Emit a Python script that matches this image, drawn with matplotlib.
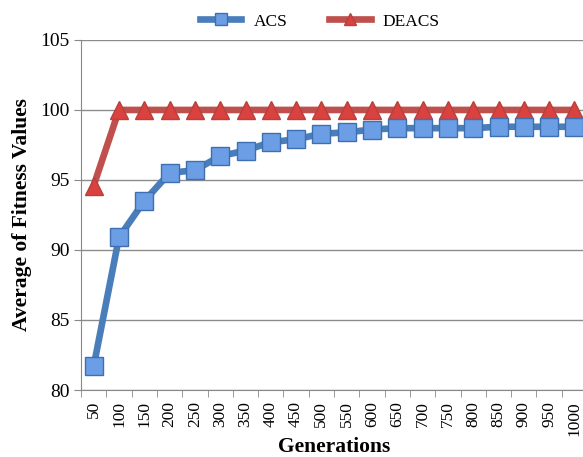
import numpy as np
import matplotlib.pyplot as plt

# data
generations = [50, 100, 150, 200, 250, 300, 350, 400, 450, 500,
               550, 600, 650, 700, 750, 800, 850, 900, 950, 1000]
acs = [81.7, 90.9, 93.5, 95.5, 95.7, 96.7, 97.1, 97.7, 97.9, 98.3,
       98.4, 98.6, 98.7, 98.7, 98.7, 98.7, 98.8, 98.8, 98.8, 98.8]
deacs = [94.6, 100, 100, 100, 100, 100, 100, 100, 100, 100,
         100, 100, 100, 100, 100, 100, 100, 100, 100, 100]
y_ticks = [80, 85, 90, 95, 100, 105]

plt.rcParams['font.family'] = ['Liberation Serif', 'DejaVu Serif']

fig = plt.figure(figsize=(5.83, 4.57), dpi=100)
ax = fig.add_axes([0.139, 0.1466, 0.868, 0.766])

x = np.arange(1, len(generations) + 1)

ax.plot(x, acs, color='#4A7EBB', lw=4.8, marker='s', ms=12.5,
        mfc='#6C9EE6', mec='#3E6FB0', mew=1, label='ACS', zorder=3)
ax.plot(x, deacs, color='#C0504D', lw=4.8, marker='^', ms=12.5,
        mfc='#D9423F', mec='#B8403D', mew=1, label='DEACS', zorder=2)

ax.set_xlim(0.5, len(generations) + 0.5)
ax.set_ylim(80, 105)
ax.set_yticks(y_ticks)
ax.tick_params(axis='y', labelsize=14, length=5, color='#888888', direction='out', pad=3)

ax.set_xticks(x)
ax.set_xticklabels([str(g) for g in generations], rotation=90, fontsize=12.5)
ax.tick_params(axis='x', length=0, pad=8)
ax.set_xticks(np.arange(0.5, len(generations) + 1), minor=True)
ax.tick_params(axis='x', which='minor', length=5, color='#888888', direction='out')

ax.grid(axis='y', color='#8c8c8c', lw=1)
ax.set_axisbelow(True)
for s in ['top', 'right']:
    ax.spines[s].set_visible(False)
for s in ['left', 'bottom']:
    ax.spines[s].set_color('#888888')

ax.set_ylabel('Average of Fitness Values', fontsize=15.5, fontweight='bold', labelpad=6)
ax.set_xlabel('Generations', fontsize=15.5, fontweight='bold', labelpad=1)

ax.legend(loc='lower center', bbox_to_anchor=(0.472, 1.0), ncol=2, frameon=False,
          fontsize=12.5, handlelength=2.4, handletextpad=0.7, columnspacing=2.4,
          borderaxespad=0.2, markerscale=0.65)

plt.savefig('out.png', dpi=100)
